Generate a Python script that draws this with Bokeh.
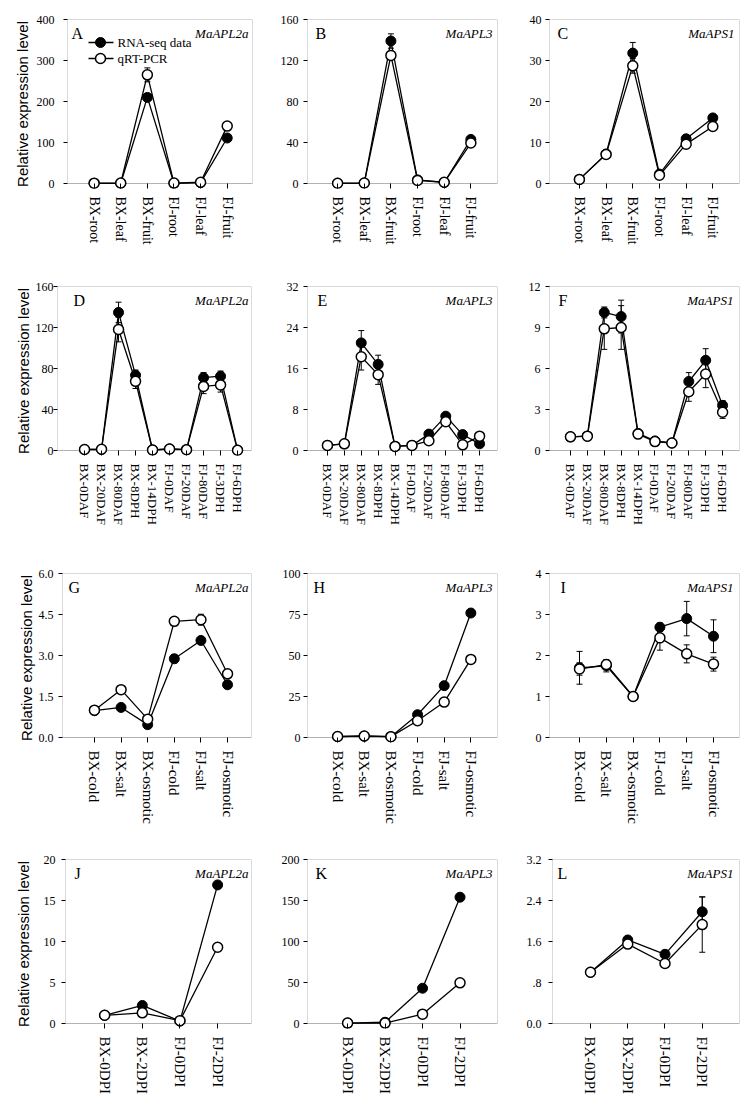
import numpy as np
from bokeh.plotting import figure
from bokeh.models import Range1d, FixedTicker, BoxAnnotation, Whisker, TeeHead, ColumnDataSource, Label
from bokeh.layouts import column, row
from bokeh.embed import file_html
from bokeh.resources import INLINE

SERIF = "Liberation Serif"
SANS = "Liberation Sans"

# ---------------- categories ----------------
tissue_cats = ["BX-root", "BX-leaf", "BX-fruit", "FJ-root", "FJ-leaf", "FJ-fruit"]
dev_cats = ["BX-0DAF", "BX-20DAF", "BX-80DAF", "BX-8DPH", "BX-14DPH",
            "FJ-0DAF", "FJ-20DAF", "FJ-80DAF", "FJ-3DPH", "FJ-6DPH"]
stress_cats = ["BX-cold", "BX-salt", "BX-osmotic", "FJ-cold", "FJ-salt", "FJ-osmotic"]
dpi_cats = ["BX-0DPI", "BX-2DPI", "FJ-0DPI", "FJ-2DPI"]

series_names = ["RNA-seq data", "qRT-PCR"]

# ---------------- data ----------------
A_rna = [0.3, 0.5, 210, 0.5, 2.0, 111]
A_rna_err = [0, 0, 0, 0, 0, 0]
A_qpcr = [0.8, 1.2, 265, 1.0, 3.0, 140]
A_qpcr_err = [0, 0, 17, 0, 0, 5]
A_yticks = [0, 100, 200, 300, 400]
A_ylabels = ["0", "100", "200", "300", "400"]

B_rna = [0.2, 0.4, 139, 3.5, 1.0, 43]
B_rna_err = [0, 0, 7, 0, 0, 2]
B_qpcr = [0.3, 0.5, 125, 3.0, 1.2, 39.5]
B_qpcr_err = [0, 0, 4, 0, 0, 1.5]
B_yticks = [0, 40, 80, 120, 160]
B_ylabels = ["0", "40", "80", "120", "160"]

C_rna = [1.0, 7.2, 31.8, 2.3, 10.9, 16.0]
C_rna_err = [0, 0, 2.6, 0, 0, 0.5]
C_qpcr = [1.0, 7.1, 28.7, 2.0, 9.6, 13.9]
C_qpcr_err = [0, 0, 1.8, 0, 0, 0.5]
C_yticks = [0, 10, 20, 30, 40]
C_ylabels = ["0", "10", "20", "30", "40"]

D_rna = [1.0, 1.0, 134.7, 73.5, 0.5, 1.5, 0.8, 71.0, 72.5, 0.3]
D_rna_err = [0, 0, 10, 5, 0, 0, 0, 5, 5, 0]
D_qpcr = [1.0, 1.2, 118, 67.5, 0.5, 1.5, 0.8, 62.5, 64, 0.3]
D_qpcr_err = [0, 0, 12, 7, 0, 0, 0, 7, 7, 0]
D_yticks = [0, 40, 80, 120, 160]
D_ylabels = ["0", "40", "80", "120", "160"]

E_rna = [1.0, 1.3, 21.0, 16.8, 0.8, 1.0, 3.2, 6.7, 3.1, 1.3]
E_rna_err = [0, 0, 2.4, 1.8, 0, 0, 0.3, 0.4, 0.3, 0.2]
E_qpcr = [1.0, 1.3, 18.3, 14.8, 0.8, 1.0, 1.9, 5.6, 1.1, 2.8]
E_qpcr_err = [0, 0, 2.6, 1.9, 0, 0, 0.2, 0.4, 0.2, 0.3]
E_yticks = [0, 8, 16, 24, 32]
E_ylabels = ["0", "8", "16", "24", "32"]

F_rna = [1.0, 1.05, 10.1, 9.8, 1.25, 0.7, 0.55, 5.05, 6.6, 3.3]
F_rna_err = [0, 0, 0.4, 1.2, 0, 0, 0, 0.65, 0.85, 0.35]
F_qpcr = [1.0, 1.05, 8.9, 9.0, 1.2, 0.65, 0.55, 4.3, 5.6, 2.8]
F_qpcr_err = [0, 0, 1.5, 1.6, 0.1, 0.05, 0.05, 0.7, 1.0, 0.45]
F_yticks = [0, 3, 6, 9, 12]
F_ylabels = ["0", "3", "6", "9", "12"]

G_rna = [0.98, 1.1, 0.47, 2.88, 3.55, 1.93]
G_rna_err = [0.08, 0.12, 0.06, 0.15, 0.1, 0.08]
G_qpcr = [1.0, 1.75, 0.67, 4.25, 4.31, 2.33]
G_qpcr_err = [0.05, 0.05, 0.05, 0.05, 0.2, 0.08]
G_yticks = [0, 1.5, 3.0, 4.5, 6.0]
G_ylabels = ["0.0", "1.5", "3.0", "4.5", "6.0"]

H_rna = [0.5, 0.8, 0.5, 13.9, 31.6, 75.9]
H_rna_err = [0, 0, 0, 0, 0, 0]
H_qpcr = [0.6, 0.9, 0.5, 10.2, 21.6, 47.6]
H_qpcr_err = [0, 0, 0, 0, 0, 0]
H_yticks = [0, 25, 50, 75, 100]
H_ylabels = ["0", "25", "50", "75", "100"]

I_rna = [1.7, 1.75, 1.0, 2.69, 2.9, 2.47]
I_rna_err = [0.4, 0.15, 0.03, 0.1, 0.42, 0.4]
I_qpcr = [1.67, 1.78, 1.0, 2.43, 2.04, 1.79]
I_qpcr_err = [0.15, 0.1, 0.03, 0.3, 0.22, 0.17]
I_yticks = [0, 1, 2, 3, 4]
I_ylabels = ["0", "1", "2", "3", "4"]

J_rna = [1.0, 2.2, 0.3, 16.9]
J_rna_err = [0, 0, 0, 0]
J_qpcr = [1.0, 1.3, 0.35, 9.3]
J_qpcr_err = [0, 0, 0, 0]
J_yticks = [0, 5, 10, 15, 20]
J_ylabels = ["0", "5", "10", "15", "20"]

K_rna = [0.5, 1.5, 43, 154]
K_rna_err = [0, 0, 0, 0]
K_qpcr = [0.5, 0.5, 11.4, 49.6]
K_qpcr_err = [0, 0, 0, 0]
K_yticks = [0, 50, 100, 150, 200]
K_ylabels = ["0", "50", "100", "150", "200"]

L_rna = [1.0, 1.63, 1.35, 2.18]
L_rna_err = [0, 0.04, 0.03, 0.29]
L_qpcr = [1.0, 1.55, 1.17, 1.93]
L_qpcr_err = [0.02, 0.03, 0.07, 0.54]
L_yticks = [0, 0.8, 1.6, 2.4, 3.2]
L_ylabels = ["0.0", ".8", "1.6", "2.4", "3.2"]

PANELS = [
    [("A", "MaAPL2a", tissue_cats, A_rna, A_rna_err, A_qpcr, A_qpcr_err, A_yticks, A_ylabels),
     ("B", "MaAPL3", tissue_cats, B_rna, B_rna_err, B_qpcr, B_qpcr_err, B_yticks, B_ylabels),
     ("C", "MaAPS1", tissue_cats, C_rna, C_rna_err, C_qpcr, C_qpcr_err, C_yticks, C_ylabels)],
    [("D", "MaAPL2a", dev_cats, D_rna, D_rna_err, D_qpcr, D_qpcr_err, D_yticks, D_ylabels),
     ("E", "MaAPL3", dev_cats, E_rna, E_rna_err, E_qpcr, E_qpcr_err, E_yticks, E_ylabels),
     ("F", "MaAPS1", dev_cats, F_rna, F_rna_err, F_qpcr, F_qpcr_err, F_yticks, F_ylabels)],
    [("G", "MaAPL2a", stress_cats, G_rna, G_rna_err, G_qpcr, G_qpcr_err, G_yticks, G_ylabels),
     ("H", "MaAPL3", stress_cats, H_rna, H_rna_err, H_qpcr, H_qpcr_err, H_yticks, H_ylabels),
     ("I", "MaAPS1", stress_cats, I_rna, I_rna_err, I_qpcr, I_qpcr_err, I_yticks, I_ylabels)],
    [("J", "MaAPL2a", dpi_cats, J_rna, J_rna_err, J_qpcr, J_qpcr_err, J_yticks, J_ylabels),
     ("K", "MaAPL3", dpi_cats, K_rna, K_rna_err, K_qpcr, K_qpcr_err, K_yticks, K_ylabels),
     ("L", "MaAPS1", dpi_cats, L_rna, L_rna_err, L_qpcr, L_qpcr_err, L_yticks, L_ylabels)],
]

# ---------------- layout (page pixels; Bokeh page has no body margin) ----------------
COL_X = [0, 270, 515, 746]
ROW_Y = [0, 270, 560, 830, 1110]
ROW_XFONT = ["14px", "13px", "15px", "15px"]
DELTA = 5  # frame extends below y=0 so markers at zero are not cut

GEOM = {
    "A": dict(frame=(67, 252, 19, 183), pad=(1.0, 0.95), ldx=4, gdx=4, tst=9, lst=3),
    "B": dict(frame=(307, 497, 19, 183), pad=(1.13, 1.0), ldx=8, gdx=5, tst=5),
    "C": dict(frame=(549, 739, 19, 183), pad=(1.12, 1.0), ldx=8, gdx=5, tst=4),
    "D": dict(frame=(57, 251, 286, 450), pad=(1.59, 0.82), ldx=16, gdx=3, tst=0, lst=1),
    "E": dict(frame=(307, 497, 286, 450), pad=(1.18, 1.06), ldx=10, gdx=5, tst=5),
    "F": dict(frame=(549, 739, 286, 450), pad=(1.24, 1.0), ldx=9, gdx=6, tst=5),
    "G": dict(frame=(62, 251, 573, 737), pad=(1.2, 0.9), ldx=6, gdx=3, tst=5, lst=1),
    "H": dict(frame=(307, 497, 573, 737), pad=(1.13, 1.0), ldx=6, gdx=5, tst=3),
    "I": dict(frame=(549, 739, 573, 737), pad=(1.12, 0.97), ldx=11, gdx=6, tst=4),
    "J": dict(frame=(65, 251, 859, 1023), pad=(1.04, 0.9), ldx=9, gdx=3, tst=6, lst=9),
    "K": dict(frame=(307, 497, 859, 1023), pad=(1.07, 1.0), ldx=8, gdx=5, tst=4),
    "L": dict(frame=(552, 739, 859, 1023), pad=(1.02, 1.0), ldx=5, gdx=6, tst=7),
}


def make_panel(spec, r, c):
    key, gene, cats, rna, rna_err, q, q_err, yticks, ylabels = spec
    g = GEOM[key]
    fl, fr, ft, fb = g["frame"]
    fbb = fb + DELTA
    fx0, fx1 = COL_X[c], COL_X[c + 1]
    fy0, fy1 = ROW_Y[r], ROW_Y[r + 1]
    n = len(cats)
    x0, x1 = -g["pad"][0], n - 1 + g["pad"][1]
    ymax = yticks[-1]
    y0 = -ymax * DELTA / (fb - ft)

    def px(xp, yp):
        return (x0 + (xp - fl) / (fr - fl) * (x1 - x0),
                ymax - (yp - ft) / (fbb - ft) * (ymax - y0))

    p = figure(width=fx1 - fx0, height=fy1 - fy0,
               x_range=Range1d(x0, x1), y_range=Range1d(y0, ymax),
               output_backend="svg", toolbar_location=None,
               min_border_left=fl - fx0, min_border_right=fx1 - fr,
               min_border_top=ft - fy0, min_border_bottom=fy1 - fbb)
    p.outline_line_color = None
    p.grid.visible = False
    p.background_fill_color = "white"
    p.border_fill_color = "white"

    p.add_layout(BoxAnnotation(left=x0, right=x1, bottom=0, top=ymax,
                               fill_color=None, fill_alpha=0,
                               line_color="black", line_width=1, level="underlay"))

    xa = p.xaxis[0]
    xa.ticker = FixedTicker(ticks=list(range(n)))
    xa.major_label_overrides = {i: lab for i, lab in enumerate(cats)}
    xa.major_label_orientation = "vertical"
    xa.axis_line_color = None
    xa.major_tick_in = DELTA
    xa.major_tick_out = 0
    xa.major_tick_line_color = "black"
    xa.minor_tick_line_color = None
    xa.major_label_standoff = 8
    xa.major_label_text_font = SERIF
    xa.major_label_text_font_size = ROW_XFONT[r]
    xa.major_label_text_color = "black"

    ya = p.yaxis[0]
    ya.ticker = FixedTicker(ticks=list(yticks))
    ya.major_label_overrides = {t: l for t, l in zip(yticks, ylabels)}
    ya.axis_line_color = None
    ya.major_tick_in = 0
    ya.major_tick_out = 4
    ya.major_tick_line_color = "black"
    ya.minor_tick_line_color = None
    ya.major_label_standoff = g["tst"]
    ya.major_label_text_font = SERIF
    ya.major_label_text_font_size = "12px"
    ya.major_label_text_color = "black"
    if c == 0:
        ya.axis_label = "Relative expression level"
        ya.axis_label_text_font = SANS
        ya.axis_label_text_font_style = "normal"
        ya.axis_label_text_font_size = "15px"
        ya.axis_label_text_color = "black"
        ya.axis_label_standoff = g["lst"]

    idx = list(range(n))
    for vals, errs in ((rna, rna_err), (q, q_err)):
        sel = [i for i in idx if errs[i] > 0]
        if sel:
            src = ColumnDataSource(dict(x=sel,
                                        upper=[vals[i] + errs[i] for i in sel],
                                        lower=[vals[i] - errs[i] for i in sel]))
            p.add_layout(Whisker(source=src, base="x", upper="upper", lower="lower",
                                 line_color="black", line_width=1, level="underlay",
                                 upper_head=TeeHead(size=6, line_color="black", line_width=1),
                                 lower_head=TeeHead(size=6, line_color="black", line_width=1)))

    p.line(idx, rna, line_color="black", line_width=1.3)
    p.scatter(idx, rna, size=10, marker="circle", fill_color="black",
              line_color="black", line_width=1)
    p.line(idx, q, line_color="black", line_width=1.3)
    p.scatter(idx, q, size=10, marker="circle", fill_color="white",
              line_color="black", line_width=1.5)

    lx, ly = px(fl + g["ldx"], ft + 5)
    p.add_layout(Label(x=lx, y=ly, text=key, text_font=SERIF, text_font_size="16px",
                       text_align="left", text_baseline="top", text_color="black"))
    gx, gy = px(fr - g["gdx"], ft + 6)
    p.add_layout(Label(x=gx, y=gy, text=gene, text_font=SERIF, text_font_size="13px",
                       text_font_style="italic", text_align="right", text_baseline="top",
                       text_color="black"))

    if key == "A":
        for k, (fill, lw) in enumerate((("black", 1), ("white", 1.5))):
            yp = ft + 23 + 16 * k
            xa_, ya_ = px(fl + 21, yp)
            xb_, _ = px(fl + 46, yp)
            xm_, _ = px(fl + 33, yp)
            xt_, _ = px(fl + 50, yp)
            p.line([xa_, xb_], [ya_, ya_], line_color="black", line_width=1.3)
            p.scatter([xm_], [ya_], size=10, marker="circle", fill_color=fill,
                      line_color="black", line_width=lw)
            p.add_layout(Label(x=xt_, y=ya_, text=series_names[k], text_font=SERIF,
                               text_font_size="13px", text_align="left",
                               text_baseline="middle", text_color="black"))
    return p


rows = []
for r, specs in enumerate(PANELS):
    rows.append(row([make_panel(s, r, c) for c, s in enumerate(specs)]))
layout = column(rows)

open("out.html", "w").write(file_html(layout, INLINE))
